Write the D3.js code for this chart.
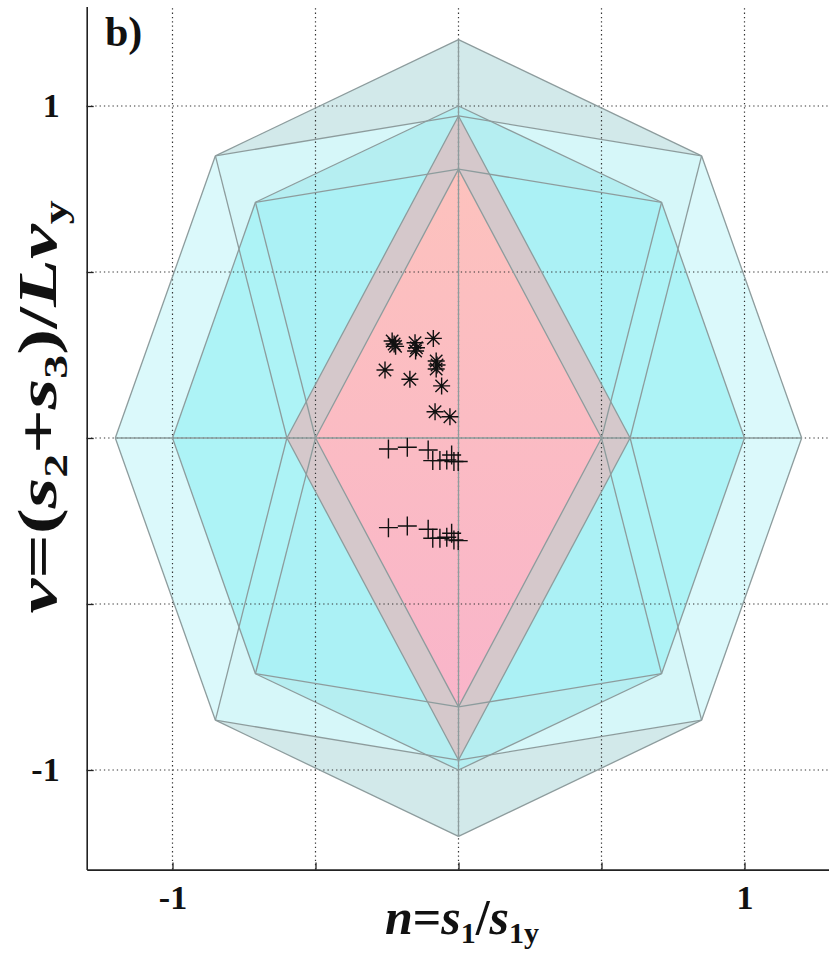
<!DOCTYPE html>
<html>
<head>
<meta charset="utf-8">
<script src="https://cdn.jsdelivr.net/npm/d3@7/dist/d3.min.js"></script>
<style>
  body { margin: 0; background: #fff; }
  svg text { font-family: 'Liberation Serif', 'DejaVu Serif', serif; font-weight: bold; }
</style>
</head>
<body>
<div class="visual"></div>
<script>
const [width, height] = [829, 954];

// vertices of the two octagons and the two inner diamonds (n, v)
const outerOct = [[0, 1.2], [0.85, 0.85], [1.2, 0], [0.85, -0.85], [0, -1.2], [-0.85, -0.85], [-1.2, 0], [-0.85, 0.85]];
const innerOct = [[0, 1.0], [0.71, 0.71], [1.0, 0], [0.71, -0.71], [0, -1.0], [-0.71, -0.71], [-1.0, 0], [-0.71, 0.71]];
const grayDiamond = [[0, 0.97], [0.6, 0], [0, -0.97], [-0.6, 0]];
const pinkDiamond = [[0, 0.81], [0.5, 0], [0, -0.81], [-0.5, 0]];

// measured points
const starPts = [
  [-0.232, 0.292], [-0.225, 0.283], [-0.220, 0.276], [-0.152, 0.287], [-0.147, 0.272], [-0.150, 0.262],
  [-0.088, 0.300], [-0.078, 0.232], [-0.075, 0.220], [-0.078, 0.208], [-0.257, 0.205], [-0.170, 0.177],
  [-0.059, 0.157], [-0.082, 0.079], [-0.030, 0.064],
];
const plusPts = [
  [-0.245, -0.033], [-0.179, -0.028], [-0.106, -0.036], [-0.090, -0.068], [-0.065, -0.068],
  [-0.041, -0.066], [-0.024, -0.051], [-0.016, -0.071], [-0.001, -0.071],
  [-0.245, -0.270], [-0.179, -0.265], [-0.106, -0.275], [-0.090, -0.302], [-0.065, -0.302],
  [-0.041, -0.299], [-0.024, -0.287], [-0.016, -0.307], [-0.001, -0.309],
];

const xTicks = [-1, -0.5, 0, 0.5, 1];
const yTicks = [-1, -0.5, 0, 0.5, 1];
const tickLabels = { '-1': '-1', '1': '1' };

const svg = d3.select('.visual').append('svg').attr('width', width).attr('height', height);

const x = d3.scaleLinear().domain([-1.3, 1.3]).range([86.7, 830.3]);
const y = d3.scaleLinear().domain([-1.3, 1.3]).range([869.6, 6.4]);
const line = d3.line().x((d) => x(d[0])).y((d) => y(d[1]));
const poly = (pts) => line(pts) + 'Z';

const [o, i, g, p] = [outerOct, innerOct, grayDiamond, pinkDiamond];

const defs = svg.append('defs');
const grad = defs.append('linearGradient').attr('id', 'pink').attr('x1', 0).attr('y1', 0).attr('x2', 0).attr('y2', 1);
grad.append('stop').attr('offset', '0%').attr('stop-color', '#fdc2bd');
grad.append('stop').attr('offset', '100%').attr('stop-color', '#f9b5ca');

// faces: bands between octagon and diamond, then diagonal triangles
const faces = [
  { pts: [o[7], o[0], o[1], g[0]], fill: '#d2e9ea' },
  { pts: [o[3], o[4], o[5], g[2]], fill: '#d2e9ea' },
  { pts: [o[1], o[2], o[3], g[1]], fill: '#dbf9fb' },
  { pts: [o[5], o[6], o[7], g[3]], fill: '#dbf9fb' },
  { pts: [o[1], g[0], g[1]], fill: '#d6f7f9' },
  { pts: [o[3], g[1], g[2]], fill: '#d6f7f9' },
  { pts: [o[5], g[2], g[3]], fill: '#d6f7f9' },
  { pts: [o[7], g[3], g[0]], fill: '#d6f7f9' },
  { pts: [i[7], i[0], i[1], p[0]], fill: '#b5eef1' },
  { pts: [i[3], i[4], i[5], p[2]], fill: '#b5eef1' },
  { pts: [i[1], i[2], i[3], p[1]], fill: '#adf3f6' },
  { pts: [i[5], i[6], i[7], p[3]], fill: '#adf3f6' },
  { pts: [i[1], p[0], p[1]], fill: '#abf1f5' },
  { pts: [i[3], p[1], p[2]], fill: '#abf1f5' },
  { pts: [i[5], p[2], p[3]], fill: '#abf1f5' },
  { pts: [i[7], p[3], p[0]], fill: '#abf1f5' },
  { pts: g, fill: '#d5c8cb' },
  { pts: p, fill: 'url(#pink)' },
];

svg.append('g')
  .selectAll('path')
  .data(faces)
  .enter()
  .append('path')
  .attr('d', (d) => poly(d.pts))
  .attr('fill', (d) => d.fill)
  .attr('stroke', 'none');

// dotted grid
const grid = svg.append('g').attr('stroke', '#333').attr('stroke-width', 1.2).attr('stroke-dasharray', '1.3,3');
grid.selectAll('.gx').data(xTicks).enter().append('line')
  .attr('x1', (d) => x(d)).attr('x2', (d) => x(d))
  .attr('y1', y(-1.3)).attr('y2', y(1.3));
grid.selectAll('.gy').data(yTicks).enter().append('line')
  .attr('y1', (d) => y(d)).attr('y2', (d) => y(d))
  .attr('x1', x(-1.3)).attr('x2', x(1.3));

// edges
const edges = [];
[o, i, g, p].forEach((shape) => shape.forEach((pt, k) => edges.push([pt, shape[(k + 1) % shape.length]])));
[1, 3, 5, 7].forEach((k) => {
  const a = (k - 1) / 2;
  edges.push([o[k], g[a]], [o[k], g[(a + 1) % 4]]);
  edges.push([i[k], p[a]], [i[k], p[(a + 1) % 4]]);
});
edges.push([o[0], o[4]], [o[6], o[2]]);

svg.append('g')
  .selectAll('path')
  .data(edges)
  .enter()
  .append('path')
  .attr('d', (d) => line(d))
  .attr('fill', 'none')
  .attr('stroke', '#8d9c9d')
  .attr('stroke-width', 1.3);

// markers
const r = 8.5;
const rd = 6.2;
const starPath = `M${-r},0H${r}M0,${-r}V${r}M${-rd},${-rd}L${rd},${rd}M${-rd},${rd}L${rd},${-rd}`;
const plusPath = `M${-r - 1},0H${r + 1}M0,${-r - 1}V${r + 1}`;

svg.append('g')
  .selectAll('path')
  .data(starPts)
  .enter()
  .append('path')
  .attr('transform', (d) => `translate(${x(d[0])},${y(d[1])})`)
  .attr('d', starPath)
  .attr('fill', 'none')
  .attr('stroke', '#111')
  .attr('stroke-width', 1.4);

svg.append('g')
  .selectAll('path')
  .data(plusPts)
  .enter()
  .append('path')
  .attr('transform', (d) => `translate(${x(d[0])},${y(d[1])})`)
  .attr('d', plusPath)
  .attr('fill', 'none')
  .attr('stroke', '#111')
  .attr('stroke-width', 1.4);

// axes
const fmt = (d) => tickLabels[String(d)] || '';
const xAxis = svg.append('g')
  .attr('transform', `translate(0,${y(-1.3)})`)
  .call(d3.axisBottom(x).tickValues(xTicks).tickSize(-7).tickSizeOuter(0).tickPadding(15).tickFormat(fmt));
const yAxis = svg.append('g')
  .attr('transform', `translate(${x(-1.3)},0)`)
  .call(d3.axisLeft(y).tickValues(yTicks).tickSize(-7).tickSizeOuter(0).tickPadding(27).tickFormat(fmt));

[xAxis, yAxis].forEach((ax) => {
  ax.select('.domain').attr('stroke', '#222').attr('stroke-width', 1.6);
  ax.selectAll('.tick line').attr('stroke', '#222').attr('stroke-width', 1.3);
  ax.selectAll('.tick text')
    .attr('fill', '#111')
    .style('font-size', '34px')
    .style('font-family', "'Liberation Serif', serif")
    .style('font-weight', 'bold');
});

// panel label
svg.append('text').attr('x', 105).attr('y', 46).style('font-size', '42px').attr('fill', '#111').text('b)');

// axis titles
const xTitle = svg.append('text')
  .attr('x', 462).attr('y', 934)
  .attr('text-anchor', 'middle')
  .attr('fill', '#111')
  .style('font-size', '50px');
xTitle.append('tspan').style('font-style', 'italic').text('n');
xTitle.append('tspan').text('=');
xTitle.append('tspan').style('font-style', 'italic').text('s');
xTitle.append('tspan').attr('dy', 9).style('font-size', '30px').text('1');
xTitle.append('tspan').attr('dy', -9).text('/');
xTitle.append('tspan').style('font-style', 'italic').text('s');
xTitle.append('tspan').attr('dy', 9).style('font-size', '30px').text('1y');

// the y title of the source is drawn stretched along its length
const yTitle = svg.append('text')
  .attr('transform', 'translate(56,407) scale(1,1.45) rotate(-90)')
  .attr('text-anchor', 'middle')
  .attr('fill', '#111')
  .style('font-size', '54px');
yTitle.append('tspan').style('font-style', 'italic').text('v');
yTitle.append('tspan').text('=(');
yTitle.append('tspan').style('font-style', 'italic').text('s');
yTitle.append('tspan').attr('dy', 11).style('font-size', '33px').text('2');
yTitle.append('tspan').attr('dy', -11).text('+');
yTitle.append('tspan').style('font-style', 'italic').text('s');
yTitle.append('tspan').attr('dy', 11).style('font-size', '33px').text('3');
yTitle.append('tspan').attr('dy', -11).text(')/');
yTitle.append('tspan').style('font-style', 'italic').text('Lv');
yTitle.append('tspan').attr('dy', 11).style('font-size', '33px').text('y');
</script>
</body>
</html>
